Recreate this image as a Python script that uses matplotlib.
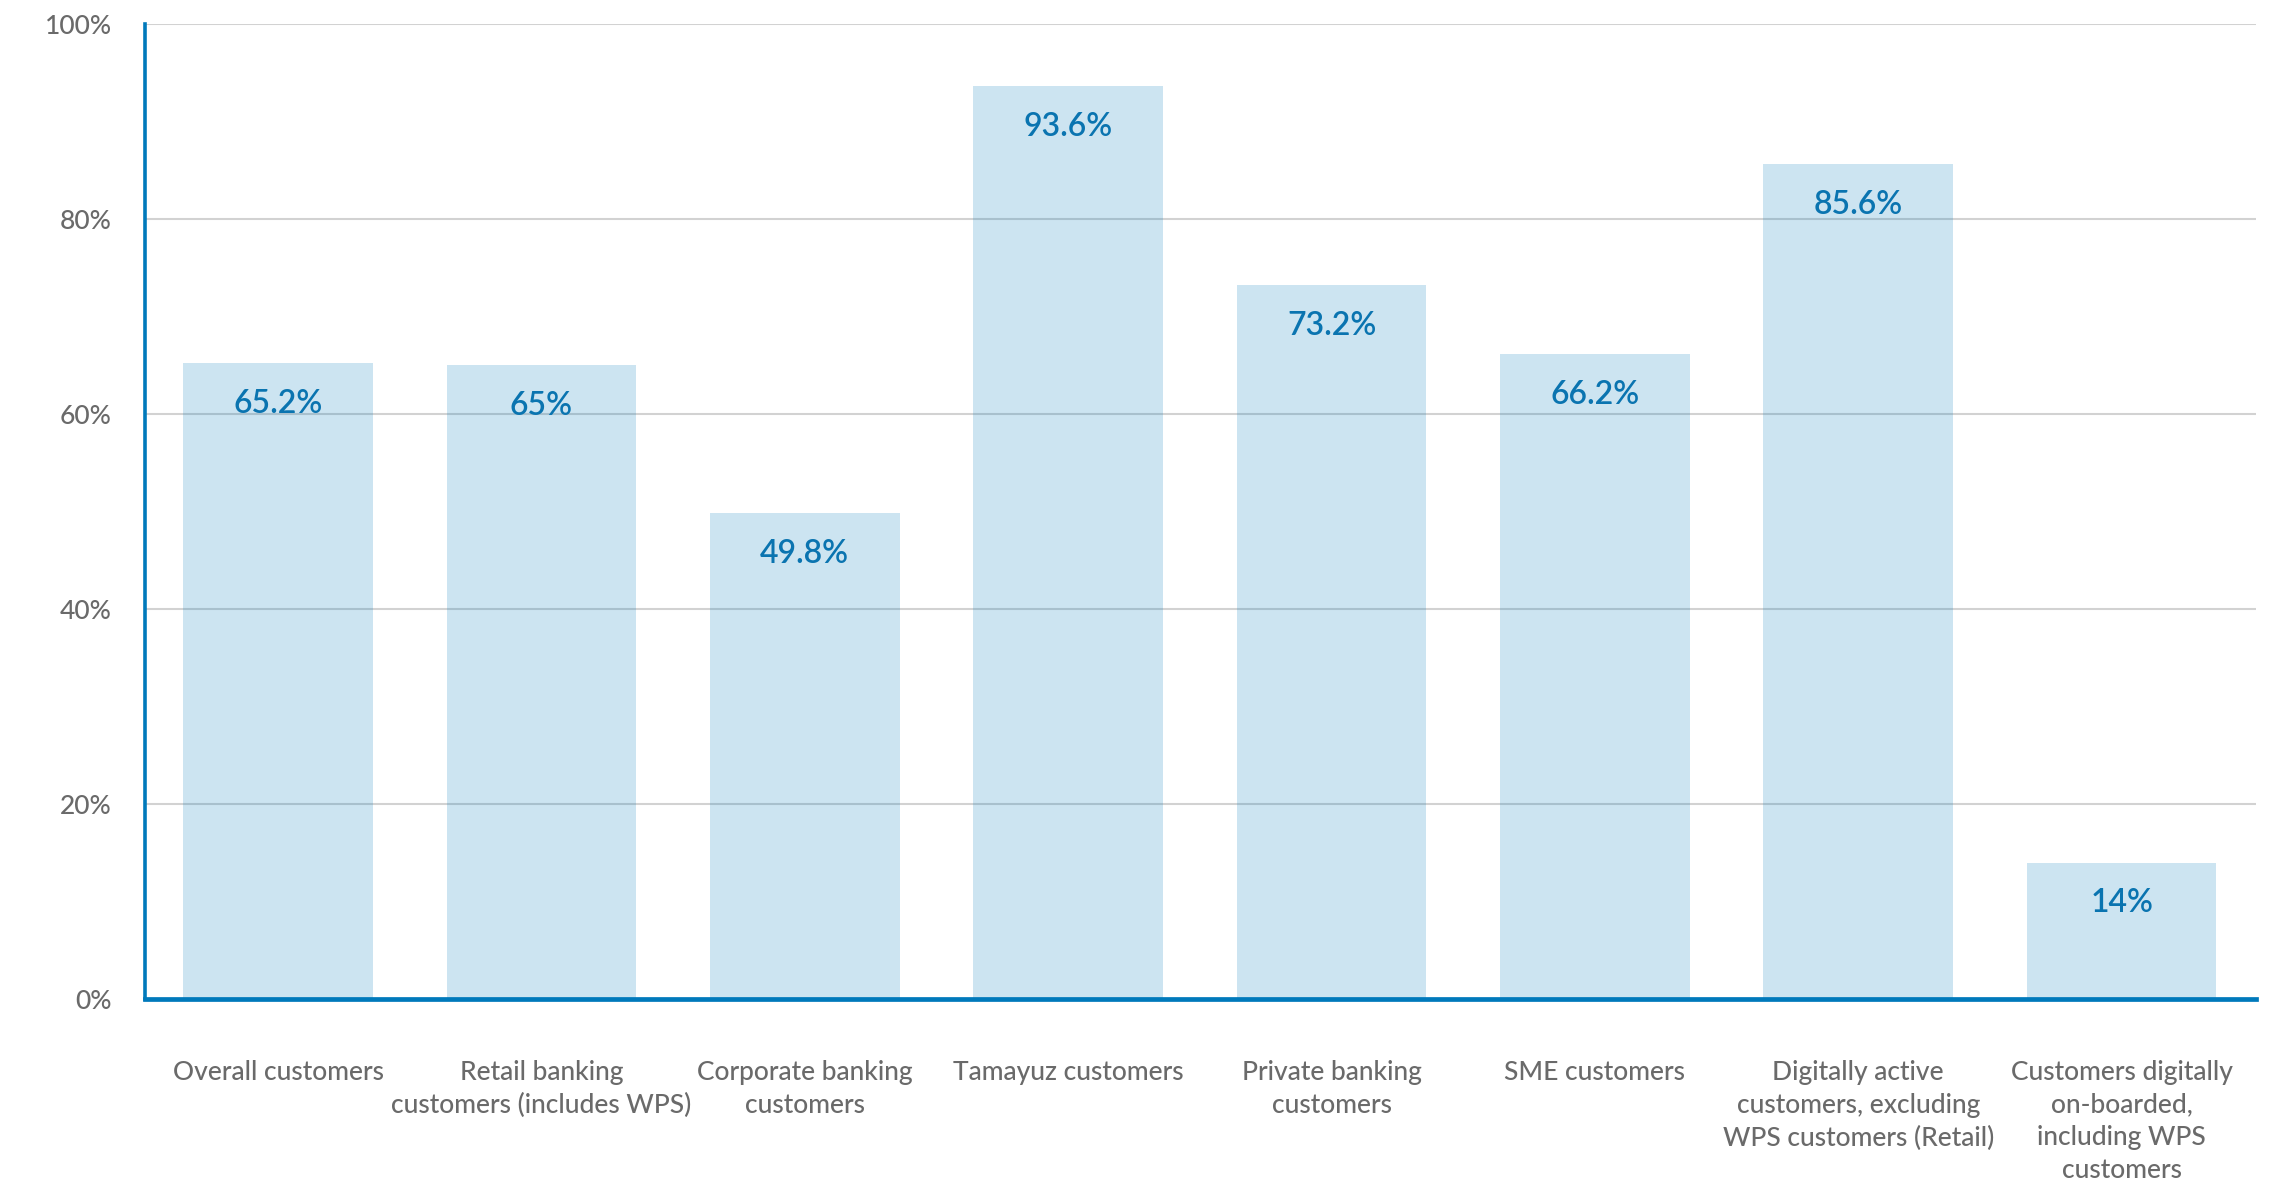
import matplotlib
matplotlib.use("Agg")
import matplotlib.pyplot as plt
from matplotlib.ticker import FuncFormatter

# Share of customers per segment (%)
categories = [
    "Overall customers",
    "Retail banking\ncustomers (includes WPS)",
    "Corporate banking\ncustomers",
    "Tamayuz customers",
    "Private banking\ncustomers",
    "SME customers",
    "Digitally active\ncustomers, excluding\nWPS customers (Retail)",
    "Customers digitally\non-boarded,\nincluding WPS\ncustomers",
]
values = [65.2, 65, 49.8, 93.6, 73.2, 66.2, 85.6, 14]
y_ticks = [0, 20, 40, 60, 80, 100]

BLUE = "#0079bb"
GRAY = "#6a6a6a"
FONT = ["Lato", "DejaVu Sans"]

plt.rcParams["font.family"] = FONT

fig = plt.figure(figsize=(22.89, 11.89), dpi=100)
ax = fig.add_axes([145 / 2289, 190 / 1189, 2111 / 2289, 975 / 1189])

x = list(range(len(values)))
ax.bar(x, values, width=0.72, color=BLUE, alpha=0.2, zorder=3, linewidth=0)

for xi, v in zip(x, values):
    ax.annotate(f"{v:g}%", xy=(xi, v), xytext=(0, -29.5),
                textcoords="offset points", ha="center", va="center",
                fontsize=23, fontweight="semibold", color="#0a74b0", zorder=4)

ax.set_xlim(-0.505, len(values) - 1 + 0.51)
ax.set_ylim(0, 100)
ax.set_yticks(y_ticks)
ax.yaxis.set_major_formatter(FuncFormatter(lambda v, _: f"{v:g}%"))
ax.set_xticks(x)
ax.set_xticklabels(categories, linespacing=1.38)

ax.tick_params(axis="both", length=0, colors=GRAY, labelsize=19)
ax.tick_params(axis="y", pad=24)
ax.tick_params(axis="x", pad=44)
for lbl in ax.get_xticklabels() + ax.get_yticklabels():
    lbl.set_fontweight("medium")

ax.grid(axis="y", color="#d2d2d2", linewidth=1.5, zorder=0)
ax.set_axisbelow(True)

for side in ("top", "right"):
    ax.spines[side].set_visible(False)
ax.spines["left"].set_color(BLUE)
ax.spines["left"].set_linewidth(2.6)
ax.spines["bottom"].set_color(BLUE)
ax.spines["bottom"].set_linewidth(3.4)
ax.spines["left"].set_zorder(2)
ax.spines["bottom"].set_zorder(2)

fig.savefig("out.png", dpi=100, facecolor="white")
